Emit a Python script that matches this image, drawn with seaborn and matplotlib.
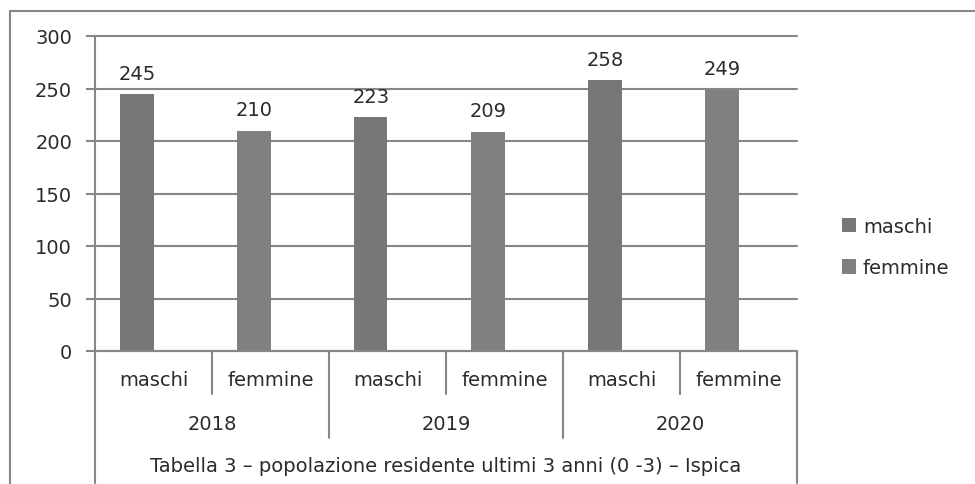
import matplotlib
matplotlib.use("Agg")
import matplotlib.pyplot as plt
import seaborn as sns
import pandas as pd
import numpy as np
from matplotlib.lines import Line2D
from matplotlib.patches import Patch

# ---- data ----
years = ["2018", "2019", "2020"]
sexes = ["maschi", "femmine"]
values = [245, 210, 223, 209, 258, 249]
series = ["maschi", "femmine"]
yticks = [0, 50, 100, 150, 200, 250, 300]

slots = [f"{y}-{s}" for y in years for s in sexes]
df = pd.DataFrame({
    "slot": slots * 2,
    "serie": [series[0]] * len(slots) + [series[1]] * len(slots),
    "valore": values + [np.nan] * len(slots),
})

sns.set_theme(style="white")
plt.rcParams["font.family"] = ["DejaVu Sans"]
txt = "#2b2b2b"
grid_c = "#878787"
bar_cols = ["#777777", "#808080"]
fs = 14

fig = plt.figure(figsize=(9.75, 4.85), dpi=100)
W, H = 975, 485
ax = fig.add_axes([95 / W, 1 - 352 / H, (797 - 95) / W, (352 - 37) / H])

sns.barplot(data=df, x="slot", y="valore", hue="serie", hue_order=series,
            order=slots, palette=bar_cols, width=0.565, dodge=True,
            legend=False, ax=ax, zorder=3, saturation=1)

bars = [p for p in ax.patches if p.get_height() == p.get_height() and p.get_height() > 0]
for i, p in enumerate(bars):
    p.set_facecolor(bar_cols[i % 2])
    p.set_edgecolor("none")

ax.bar_label(ax.containers[0], labels=[str(v) for v in values], padding=8,
             fontsize=fs, color=txt)

ax.set_ylim(0, 300)
ax.set_xlim(-0.5, len(slots) - 0.5)
ax.set_yticks(yticks)
ax.set_yticklabels([str(t) for t in yticks], fontsize=fs, color=txt)
ax.set_xticks([])
ax.set_xlabel("")
ax.set_ylabel("")
ax.yaxis.grid(True, color=grid_c, linewidth=1.5, zorder=0)
for gl in ax.get_ygridlines():
    gl.set_clip_on(False)
ax.set_axisbelow(True)
ax.tick_params(axis="y", length=6.5, width=1.5, color=grid_c, pad=10, left=True)
for s in ["top", "right", "bottom"]:
    ax.spines[s].set_visible(False)
ax.spines["left"].set_color(grid_c)
ax.spines["left"].set_linewidth(1.5)
ax.axhline(0, color=grid_c, linewidth=1.5, zorder=4, clip_on=False)

ah = 352 - 37
def yf(py):
    return -(py - 352) / ah

tr = ax.get_xaxis_transform()
for i, s in enumerate(slots):
    ax.text(i, yf(381), s.split("-")[1], transform=tr, ha="center", va="center",
            fontsize=fs, color=txt)
for j, y in enumerate(years):
    ax.text(2 * j + 0.5, yf(425), y, transform=tr, ha="center", va="center",
            fontsize=fs, color=txt)
ax.text((len(slots) - 1) / 2, yf(467),
        "Tabella 3 \u2013 popolazione residente ultimi 3 anni (0 -3) \u2013 Ispica",
        transform=tr, ha="center", va="center", fontsize=fs, color=txt)

for k in range(len(slots) + 1):
    xb = k - 0.5
    if k == 0 or k == len(slots):
        yb = yf(484)
    elif k % 2 == 0:
        yb = yf(439)
    else:
        yb = yf(395)
    ax.add_line(Line2D([xb, xb], [0, yb], transform=tr, color=grid_c,
                       linewidth=1.5, clip_on=False))

handles = [Patch(facecolor=c, edgecolor="none") for c in bar_cols]
leg = fig.legend(handles, series, loc="center left",
                 bbox_to_anchor=(824 / W, 1 - 248 / H), frameon=False,
                 fontsize=fs, handlelength=0.75, handleheight=0.75,
                 handletextpad=0.35, labelspacing=1.15, labelcolor=txt)

fig.add_artist(Line2D([10 / W, 10 / W], [0, 1 - 12 / H], color=grid_c, linewidth=1.5))
fig.add_artist(Line2D([10 / W, 1], [1 - 12 / H, 1 - 12 / H], color=grid_c, linewidth=1.5))

fig.savefig("out.png", dpi=100)
